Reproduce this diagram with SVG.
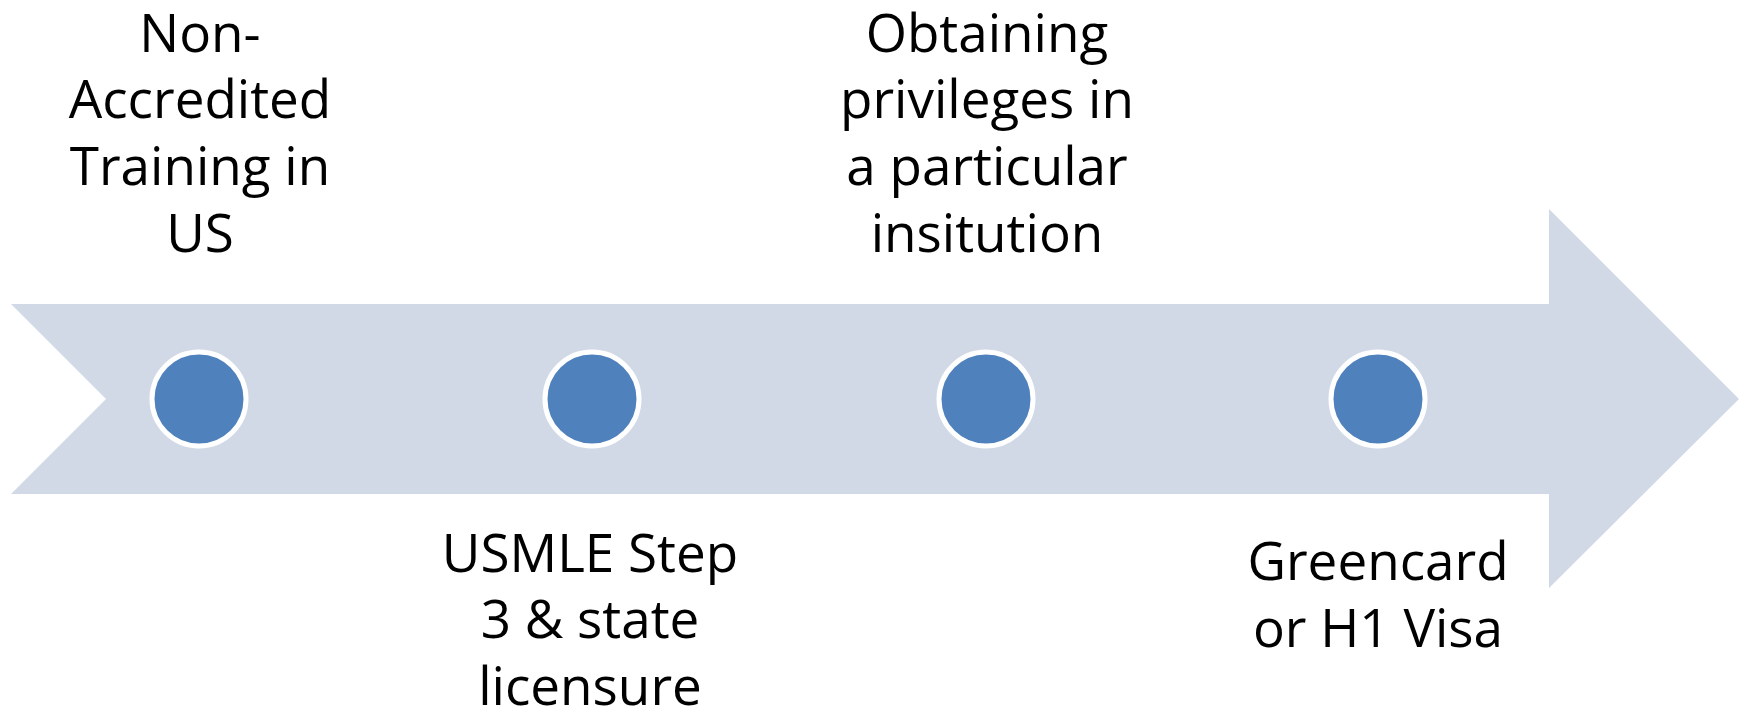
<svg xmlns="http://www.w3.org/2000/svg" width="1747" height="718" viewBox="0 0 1747 718">
<style>
.lbl{font-family:"Open Sans","Noto Sans",sans-serif;font-size:53px;fill:#000;text-anchor:middle}
.dot{fill:#4F81BD;stroke:#FFFFFF;stroke-width:5}
</style>
<rect width="1747" height="718" fill="#FFFFFF"/>
<g id="connectors">
<polygon id="timeline-arrow" points="11,304 1549,304 1549,209 1739,399 1549,588 1549,494 11,494 106,399" fill="#D1D9E7"/>
</g>
<g id="node1">
<circle class="dot" cx="199" cy="399" r="47"/>
<text class="lbl" x="200"><tspan x="200" y="52">Non-</tspan><tspan x="200" y="118">Accredited</tspan><tspan x="200" y="185">Training in</tspan><tspan x="200" y="252">US</tspan></text>
</g>
<g id="node2">
<circle class="dot" cx="592" cy="399" r="47"/>
<text class="lbl" x="590"><tspan x="590" y="572">USMLE Step</tspan><tspan x="590" y="638">3 &amp; state</tspan><tspan x="590" y="705">licensure</tspan></text>
</g>
<g id="node3">
<circle class="dot" cx="986" cy="399" r="47"/>
<text class="lbl" x="987"><tspan x="987" y="52">Obtaining</tspan><tspan x="987" y="118">privileges in</tspan><tspan x="987" y="185">a particular</tspan><tspan x="987" y="252">insitution</tspan></text>
</g>
<g id="node4">
<circle class="dot" cx="1378" cy="399" r="47"/>
<text class="lbl" x="1378"><tspan x="1378" y="580">Greencard</tspan><tspan x="1378" y="647">or H1 Visa</tspan></text>
</g>
</svg>
